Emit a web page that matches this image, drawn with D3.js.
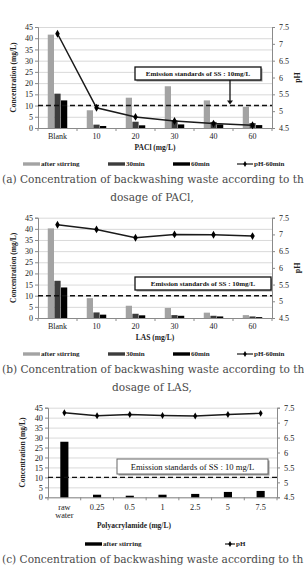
<!DOCTYPE html>
<html>
<head>
<meta charset="utf-8">
<script src="https://cdn.jsdelivr.net/npm/d3@7"></script>
<style>
  body { margin: 0; background: #fff; }
  svg { display: block; }
</style>
</head>
<body>
<svg id="chart" width="304" height="567"></svg>
<script>
// (a) PACl dosage
const catsA = ["Blank", "10", "20", "30", "40", "60"];
const afterA = [41.6, 7.9, 13.5, 18.6, 12.3, 9.4];
const m30A = [15.3, 1.5, 2.8, 3.4, 2.7, 2.2];
const m60A = [12.3, 0.9, 1.2, 1.6, 1.6, 1.3];
const phA = [7.3, 5.1, 4.83, 4.71, 4.63, 4.58];

// (b) LAS dosage
const catsB = ["Blank", "10", "20", "30", "40", "60"];
const afterB = [40.2, 8.9, 5.5, 4.5, 2.4, 1.3];
const m30B = [16.7, 2.5, 1.9, 1.3, 1.0, 0.7];
const m60B = [13.7, 1.5, 1.2, 1.0, 0.7, 0.4];
const phB = [7.29, 7.15, 6.9, 7.0, 6.99, 6.95];

// (c) Polyacrylamide dosage
const catsC = ["raw water", "0.25", "0.5", "1", "2.5", "5", "7.5"];
const afterC = [27.9, 1.3, 0.8, 1.3, 1.7, 2.7, 3.2];
const phC = [7.33, 7.23, 7.27, 7.24, 7.22, 7.27, 7.31];

const concTicks = [0, 5, 10, 15, 20, 25, 30, 35, 40, 45];
const phTicks = [4.5, 5, 5.5, 6, 6.5, 7, 7.5];
const limitSS = 10;

const serif = "'Liberation Serif', 'Times New Roman', serif";
const capFont = "'DejaVu Serif', serif";
const svg = d3.select("#chart");

function drawPanel(c) {
    const g = svg.append("g");
    const y = d3.scaleLinear().domain([0, 45]).range([c.bottom, c.top]);
    const yR = d3.scaleLinear().domain([4.5, 7.5]).range([c.bottom, c.top]);
    const x = d3.scaleBand().domain(c.cats).range([c.left, c.right])
        .paddingInner(c.pad).paddingOuter(c.pad / 2);
    const x1 = d3.scaleBand().domain(c.series.map(s => s.name))
        .range([0, x.bandwidth()]).padding(0.06);

    // grid
    g.append("g")
        .attr("transform", `translate(${c.left},0)`)
        .call(d3.axisLeft(y).tickValues(concTicks).tickSize(-(c.right - c.left)).tickFormat(""))
        .call(a => a.select(".domain").remove())
        .call(a => a.selectAll("line").attr("stroke", "#cfcfcf").attr("stroke-width", 0.8));

    // left axis
    g.append("g")
        .attr("transform", `translate(${c.left},0)`)
        .call(d3.axisLeft(y).tickValues(concTicks).tickSize(3).tickPadding(2))
        .call(a => a.select(".domain").attr("stroke", "#8a8a8a"))
        .call(a => a.selectAll("line").attr("stroke", "#8a8a8a"))
        .call(a => a.selectAll("text").attr("font-family", serif).attr("font-size", c.tickSize).attr("fill", "#222"));

    // right axis
    g.append("g")
        .attr("transform", `translate(${c.right},0)`)
        .call(d3.axisRight(yR).tickValues(phTicks).tickSize(3).tickPadding(4).tickFormat(d3.format("~g")))
        .call(a => a.select(".domain").attr("stroke", "#8a8a8a"))
        .call(a => a.selectAll("line").attr("stroke", "#8a8a8a"))
        .call(a => a.selectAll("text").attr("font-family", serif).attr("font-size", c.tickSize).attr("fill", "#222"));

    // bottom axis, ticks between categories
    const xa = g.append("g")
        .attr("transform", `translate(0,${c.bottom})`)
        .call(d3.axisBottom(x).tickSize(0).tickPadding(c.labelPad))
        .call(a => a.select(".domain").attr("stroke", "#8a8a8a"))
        .call(a => a.selectAll("text").attr("font-family", serif).attr("font-size", c.tickSize).attr("fill", "#222"));
    xa.selectAll(".tick text").each(function (d) {
        const parts = d.split(" ");
        if (parts.length > 1) {
            const t = d3.select(this).text(null);
            parts.forEach((p, i) => t.append("tspan").attr("x", 0).attr("dy", i ? "1em" : null).text(p));
        }
    });
    xa.selectAll(".sep")
        .data(d3.range(c.cats.length + 1))
        .join("line")
        .attr("x1", i => c.left + i * x.step()).attr("x2", i => c.left + i * x.step())
        .attr("y1", 0).attr("y2", 3)
        .attr("stroke", "#8a8a8a");

    // bars
    c.series.forEach(s => {
        g.append("g").selectAll("rect")
            .data(s.values)
            .join("rect")
            .attr("x", (v, i) => x(c.cats[i]) + x1(s.name))
            .attr("width", x1.bandwidth())
            .attr("y", v => y(v))
            .attr("height", v => c.bottom - y(v))
            .attr("fill", s.color);
    });

    // emission standard
    g.append("line")
        .attr("x1", c.left).attr("x2", c.right)
        .attr("y1", y(limitSS)).attr("y2", y(limitSS))
        .attr("stroke", "#111").attr("stroke-width", 1.4)
        .attr("stroke-dasharray", "5,3");

    // pH line
    const line = d3.line()
        .x((v, i) => x(c.cats[i]) + x.bandwidth() / 2)
        .y(v => yR(v));
    g.append("path")
        .attr("d", line(c.ph))
        .attr("fill", "none").attr("stroke", "#1a1a1a").attr("stroke-width", 1.5);
    g.append("g").selectAll("path")
        .data(c.ph)
        .join("path")
        .attr("transform", (v, i) => `translate(${x(c.cats[i]) + x.bandwidth() / 2},${yR(v)})`)
        .attr("d", d3.symbol(d3.symbolDiamond, c.markSize))
        .attr("fill", "#000");

    // annotation box
    const b = c.box;
    g.append("rect")
        .attr("x", b.x + 1.5).attr("y", b.y + 1.5).attr("width", b.w).attr("height", b.h)
        .attr("fill", "#9a9a9a");
    g.append("rect")
        .attr("x", b.x).attr("y", b.y).attr("width", b.w).attr("height", b.h)
        .attr("fill", "#fff").attr("stroke", b.bold ? "#111" : "#666").attr("stroke-width", b.bold ? 1.3 : 1);
    g.append("text")
        .attr("x", b.x + b.w / 2).attr("y", b.y + b.h / 2 + b.size * 0.35)
        .attr("text-anchor", "middle")
        .attr("font-family", serif).attr("font-size", b.size)
        .attr("font-weight", b.bold ? "bold" : "normal")
        .attr("fill", "#111")
        .text(b.text);
    if (b.arrowX) {
        g.append("line")
            .attr("x1", b.arrowX).attr("x2", b.arrowX)
            .attr("y1", b.y + b.h).attr("y2", y(limitSS) - 4)
            .attr("stroke", "#111").attr("stroke-width", 1.3);
        g.append("path")
            .attr("d", `M${b.arrowX - 3},${y(limitSS) - 5}L${b.arrowX + 3},${y(limitSS) - 5}L${b.arrowX},${y(limitSS) - 1}Z`)
            .attr("fill", "#111");
    }

    // axis titles
    g.append("text")
        .attr("transform", `translate(${c.yTitleX},${(c.top + c.bottom) / 2}) rotate(-90)`)
        .attr("text-anchor", "middle")
        .attr("font-family", serif).attr("font-size", 7.5).attr("font-weight", "bold").attr("fill", "#222")
        .text("Concentration (mg/L)");
    if (c.phTitle) {
        g.append("text")
            .attr("transform", `translate(${c.phTitle},${(c.top + c.bottom) / 2}) rotate(-90)`)
            .attr("text-anchor", "middle")
            .attr("font-family", serif).attr("font-size", 8).attr("font-weight", "bold").attr("fill", "#222")
            .text("pH");
    }
    g.append("text")
        .attr("x", c.xTitleX).attr("y", c.xTitleY)
        .attr("text-anchor", "middle")
        .attr("font-family", serif).attr("font-size", 7.5).attr("font-weight", "bold").attr("fill", "#222")
        .text(c.xTitle);

    // legend
    c.legend.forEach(l => {
        if (l.line) {
            g.append("line")
                .attr("x1", l.x).attr("x2", l.x + l.w).attr("y1", c.legendY).attr("y2", c.legendY)
                .attr("stroke", "#1a1a1a").attr("stroke-width", 1.2);
            g.append("path")
                .attr("transform", `translate(${l.x + l.w / 2},${c.legendY})`)
                .attr("d", d3.symbol(d3.symbolDiamond, 10))
                .attr("fill", "#000");
        } else {
            g.append("rect")
                .attr("x", l.x).attr("y", c.legendY - 1.7).attr("width", l.w).attr("height", 3.4)
                .attr("fill", l.color);
        }
        g.append("text")
            .attr("x", l.x + l.w + 1).attr("y", c.legendY + 2.4)
            .attr("font-family", serif).attr("font-size", 7).attr("font-weight", "bold").attr("fill", "#222")
            .text(l.label);
    });

    // caption (the first line is cut at the page edge in the source, so only the visible part is kept)
    c.caption.forEach((t, i) => {
        g.append("text")
            .attr("x", i ? 152 : 2).attr("y", c.captionY + i * 18)
            .attr("text-anchor", i ? "middle" : "start")
            .attr("font-family", capFont).attr("font-size", 10.6).attr("fill", "#4a4a4a")
            .text(t);
    });
}

const grey = "#a3a3a3", dark = "#3c3c3c", black = "#000";
const legendABars = [
    { x: 23, w: 17, color: grey, label: "after stirring" },
    { x: 108, w: 17, color: dark, label: "30min" },
    { x: 173, w: 17, color: black, label: "60min" },
    { x: 237, w: 16, line: true, label: "pH-60min" }
];

drawPanel({
    cats: catsA, ph: phA,
    series: [
        { name: "after", values: afterA, color: grey },
        { name: "30", values: m30A, color: dark },
        { name: "60", values: m60A, color: black }
    ],
    left: 38, right: 272, top: 27, bottom: 128, pad: 0.48, markSize: 18,
    tickSize: 8, labelPad: 5,
    yTitleX: 16, phTitle: 300,
    xTitle: "PACl (mg/L)", xTitleX: 155, xTitleY: 150,
    box: { x: 135, y: 67, w: 126, h: 13, size: 7, bold: true, text: "Emission standards of SS : 10mg/L", arrowX: 230 },
    legendY: 164, legend: legendABars,
    captionY: 183,
    caption: ["(a) Concentration of backwashing waste according to th", "dosage of PACl,"]
});

drawPanel({
    cats: catsB, ph: phB,
    series: [
        { name: "after", values: afterB, color: grey },
        { name: "30", values: m30B, color: dark },
        { name: "60", values: m60B, color: black }
    ],
    left: 38, right: 272, top: 217.7, bottom: 318, pad: 0.48, markSize: 18,
    tickSize: 8, labelPad: 5,
    yTitleX: 16, phTitle: 300,
    xTitle: "LAS (mg/L)", xTitleX: 155, xTitleY: 340,
    box: { x: 135, y: 277, w: 136, h: 13, size: 7, bold: true, text: "Emission standards of SS : 10mg/L" },
    legendY: 354, legend: legendABars,
    captionY: 373,
    caption: ["(b) Concentration of backwashing waste according to th", "dosage of LAS,"]
});

drawPanel({
    cats: catsC, ph: phC,
    series: [{ name: "after", values: afterC, color: black }],
    left: 48, right: 277, top: 407.7, bottom: 497.3, pad: 0.72, markSize: 14,
    tickSize: 8.3, labelPad: 7,
    yTitleX: 25, phTitle: null,
    xTitle: "Polyacrylamide  (mg/L)", xTitleX: 134, xTitleY: 528,
    box: { x: 117, y: 459, w: 151, h: 15, size: 8.6, bold: false, text: "Emission  standards of SS : 10 mg/L" },
    legendY: 544,
    legend: [
        { x: 85, w: 17, color: black, label: "after stirring" },
        { x: 225, w: 10, line: true, label: "pH" }
    ],
    captionY: 563,
    caption: ["(c) Concentration of backwashing waste according to th"]
});
</script>
</body>
</html>
